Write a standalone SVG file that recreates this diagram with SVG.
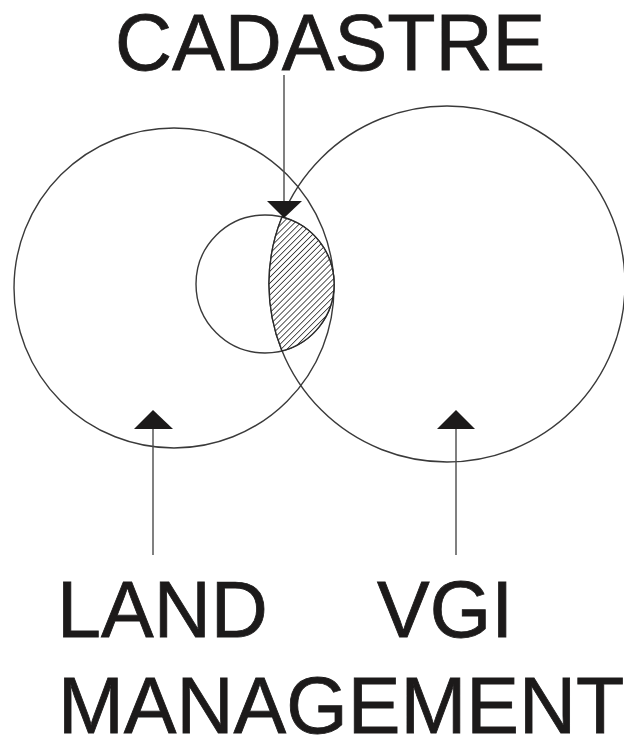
<svg xmlns="http://www.w3.org/2000/svg" width="624" height="738" viewBox="0 0 624 738">
<defs>
<style>
.c{fill:none;stroke:#3a3a3a;stroke-width:1.4}
.l{stroke:#4a4a4a;stroke-width:1.4}
.h{fill:#1c1a1a;stroke:none}
.t{font-family:"Liberation Sans",Arial,sans-serif;font-size:79px;fill:#1c1a1a;stroke:#1c1a1a;stroke-width:0.8}
</style>
<pattern id="hatch" patternUnits="userSpaceOnUse" width="4.2" height="4.2" patternTransform="rotate(45)">
<rect width="4.2" height="4.2" fill="#fff"/>
<line x1="0" y1="0" x2="0" y2="4.2" stroke="#2a2a2a" stroke-width="1.6"/>
</pattern>
</defs>
<rect width="624" height="738" fill="#fff"/>
<g id="land-management-circle"><circle class="c" cx="174" cy="288" r="160"/></g>
<g id="vgi-circle"><circle class="c" cx="447" cy="284" r="178"/></g>
<g id="inner-circle"><circle class="c" cx="265" cy="284" r="69"/></g>
<g id="cadastre-region"><path d="M282 217.1 A69 69 0 0 1 282 350.9 A178 178 0 0 1 282 217.1 Z" fill="url(#hatch)" stroke="#2a2a2a" stroke-width="1.4"/></g>
<g id="connectors">
<line class="l" x1="284" y1="75" x2="284" y2="203"/>
<polygon class="h" points="267,201 302,201 284,218"/>
<line class="l" x1="153" y1="427" x2="153" y2="555"/>
<polygon class="h" points="134,429 173,429 153,410"/>
<line class="l" x1="456" y1="427" x2="456" y2="555"/>
<polygon class="h" points="437,429 475,429 456,410"/>
</g>
<g id="label-cadastre"><text class="t" x="115" y="70">CADASTRE</text></g>
<g id="label-land-management"><text class="t" x="57" y="637">LAND</text><text class="t" x="58" y="733">MANAGEMENT</text></g>
<g id="label-vgi"><text class="t" x="377" y="637">VGI</text></g>
</svg>
